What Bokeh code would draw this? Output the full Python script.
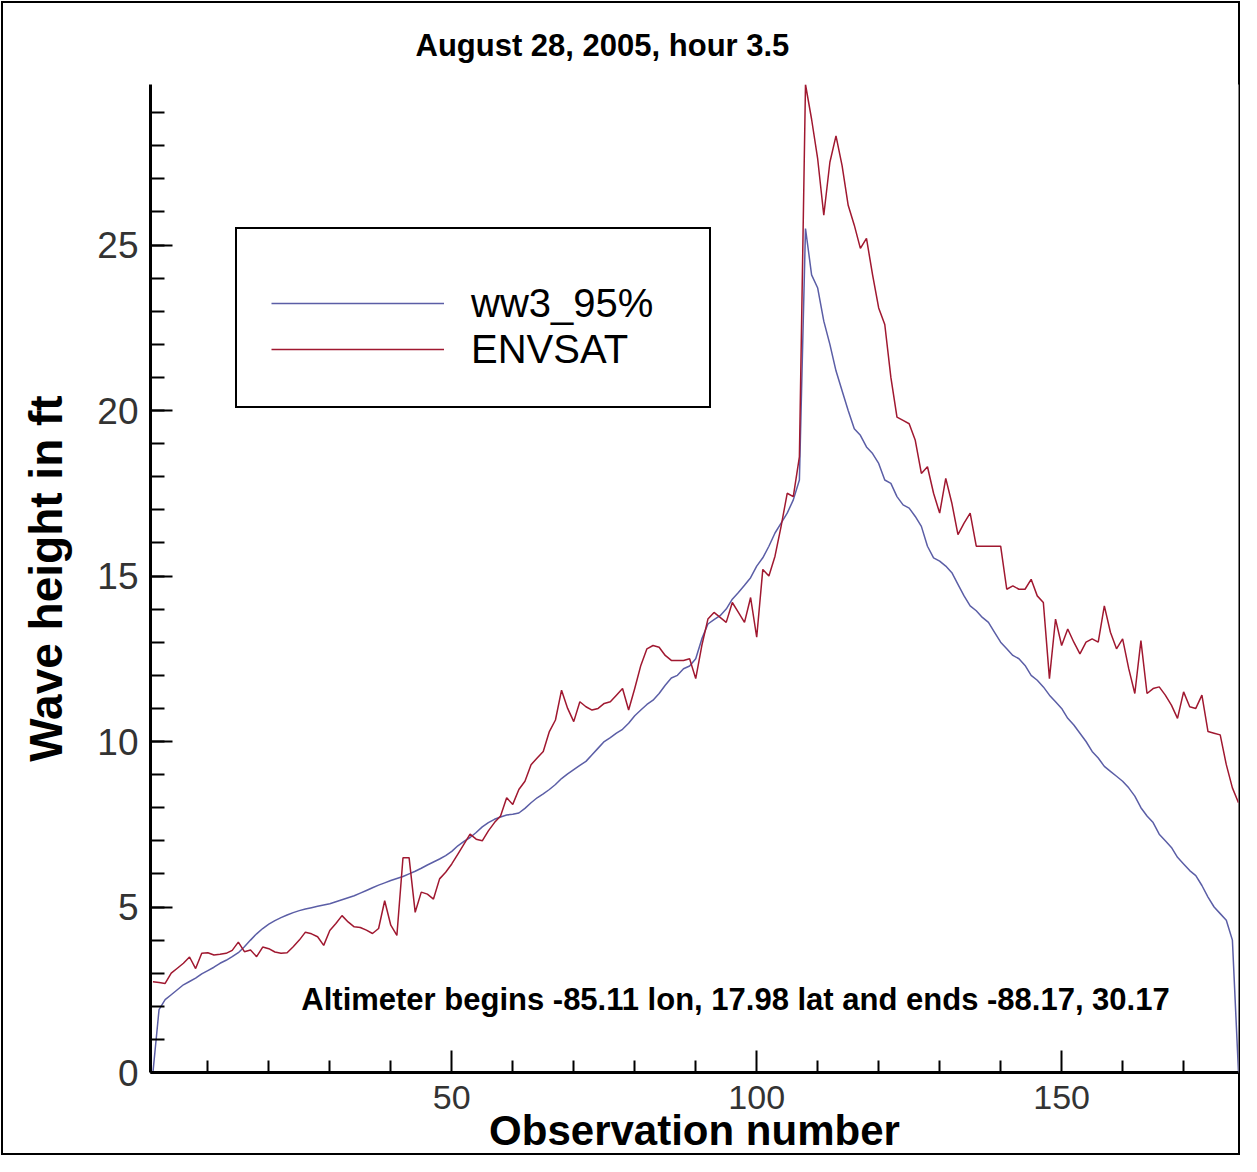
from bokeh.plotting import figure
from bokeh.models import Range1d, Legend, LegendItem, Label, FixedTicker
from bokeh.embed import file_html
from bokeh.resources import INLINE

title_text = "August 28, 2005, hour 3.5"
x_label = "Observation number"
y_label = "Wave height in ft"
note_text = "Altimeter begins -85.11 lon, 17.98 lat and ends -88.17, 30.17"
series_names = ["ww3_95%", "ENVSAT"]

x_major_ticks = [50, 100, 150]
x_minor_ticks = [10, 20, 30, 40, 60, 70, 80, 90, 110, 120, 130, 140, 160, 170]
y_major_ticks = [0, 5, 10, 15, 20, 25]
y_minor_ticks = list(range(0, 30))

observation = list(range(1, 180))

ww3_95 = [
    0.0, 1.9, 2.2, 2.35, 2.5, 2.65, 2.75, 2.85, 2.98, 3.08,
    3.18, 3.3, 3.39, 3.5, 3.62, 3.8, 4.0, 4.19, 4.35, 4.48,
    4.59, 4.68, 4.76, 4.83, 4.89, 4.94, 4.98, 5.02, 5.06, 5.1,
    5.16, 5.22, 5.28, 5.34, 5.42, 5.5, 5.58, 5.66, 5.73, 5.8,
    5.86, 5.92, 6.0, 6.08, 6.17, 6.27, 6.36, 6.45, 6.55, 6.68,
    6.85, 6.98, 7.1, 7.25, 7.42, 7.55, 7.65, 7.72, 7.78, 7.8,
    7.84, 7.98, 8.15, 8.3, 8.42, 8.55, 8.7, 8.88, 9.02, 9.15,
    9.28, 9.4, 9.6, 9.8, 10.0, 10.12, 10.25, 10.37, 10.55, 10.78,
    10.95, 11.12, 11.25, 11.45, 11.7, 11.92, 12.0, 12.2, 12.28, 12.5,
    13.1, 13.55, 13.68, 13.8, 14.0, 14.3, 14.5, 14.72, 14.95, 15.3,
    15.55, 15.9, 16.3, 16.6, 16.9, 17.3, 17.9, 25.5, 24.1, 23.7,
    22.7, 22.0, 21.2, 20.6, 20.0, 19.45, 19.25, 18.9, 18.7, 18.4,
    17.9, 17.8, 17.4, 17.15, 17.05, 16.8, 16.5, 15.9, 15.55, 15.45,
    15.3, 15.1, 14.75, 14.4, 14.1, 13.95, 13.75, 13.6, 13.3, 13.0,
    12.8, 12.6, 12.5, 12.3, 12.0, 11.85, 11.65, 11.4, 11.2, 11.0,
    10.7, 10.5, 10.25, 10.0, 9.7, 9.5, 9.25, 9.1, 8.95, 8.8,
    8.6, 8.35, 8.0, 7.75, 7.55, 7.2, 7.0, 6.8, 6.5, 6.3,
    6.1, 5.95, 5.65, 5.3, 5.0, 4.8, 4.6, 4.0, 0.0,
]

envsat = [
    2.74, 2.72, 2.69, 3.0, 3.15, 3.3, 3.49, 3.14, 3.6, 3.62,
    3.55, 3.57, 3.6, 3.69, 3.94, 3.65, 3.7, 3.5, 3.79, 3.74,
    3.64, 3.6, 3.62, 3.8, 4.0, 4.24, 4.19, 4.1, 3.84, 4.29,
    4.5, 4.74, 4.55, 4.4, 4.38, 4.3, 4.2, 4.35, 5.19, 4.45,
    4.14, 6.49, 6.49, 4.84, 5.45, 5.39, 5.24, 5.85, 6.05, 6.3,
    6.6, 6.9, 7.2, 7.05, 7.0, 7.3, 7.55, 7.75, 8.3, 8.1,
    8.55, 8.8, 9.3, 9.5, 9.7, 10.3, 10.65, 11.55, 11.0, 10.6,
    11.2, 11.05, 10.95, 11.0, 11.15, 11.2, 11.4, 11.6, 10.95, 11.6,
    12.3, 12.8, 12.9, 12.85, 12.6, 12.45, 12.45, 12.45, 12.5, 11.9,
    12.9, 13.7, 13.9, 13.75, 13.6, 14.2, 13.9, 13.6, 14.35, 13.15,
    15.2, 15.0, 15.6, 16.5, 17.5, 17.4, 18.6, 29.85, 28.8, 27.6,
    25.9, 27.5, 28.3, 27.4, 26.2, 25.6, 24.9, 25.2, 24.1, 23.1,
    22.6, 21.0, 19.8, 19.7, 19.6, 19.1, 18.1, 18.3, 17.5, 16.9,
    17.95, 17.2, 16.25, 16.6, 16.9, 15.9, 15.9, 15.9, 15.9, 15.9,
    14.6, 14.7, 14.6, 14.6, 14.9, 14.4, 14.2, 11.9, 13.7, 12.9,
    13.4, 13.0, 12.65, 13.0, 13.1, 13.0, 14.1, 13.3, 12.8, 13.1,
    12.2, 11.45, 13.05, 11.45, 11.6, 11.65, 11.4, 11.1, 10.7, 11.5,
    11.05, 11.0, 11.4, 10.3, 10.25, 10.2, 9.3, 8.6, 8.15,
]

FONT = "Liberation Sans"

p = figure(
    width=1241, height=1156,
    output_backend="svg", toolbar_location=None,
    x_range=Range1d(0.6, 179), y_range=Range1d(0, 29.85),
    min_border_left=150, min_border_right=3,
    min_border_top=84, min_border_bottom=83,
    background_fill_color="white",
)
p.border_fill_alpha = 0
p.styles = {"outline": "2px solid #000000", "outline-offset": "-3px"}
p.outline_line_color = None
p.grid.visible = False

# title
p.title.text = title_text
p.title.align = "left"
p.title.offset = 265
p.title.standoff = 44
p.title.text_font = FONT
p.title.text_font_style = "bold"
p.title.text_font_size = "31px"
p.title.text_color = "black"

# axes
for ax in (p.xaxis, p.yaxis):
    ax.axis_line_width = 3
    ax.axis_line_color = "black"
    ax.major_tick_out = 0
    ax.minor_tick_out = 0
    ax.major_tick_line_width = 2
    ax.minor_tick_line_width = 2
    ax.major_tick_line_color = "black"
    ax.minor_tick_line_color = "black"
    ax.major_label_text_font = FONT
    ax.major_label_text_color = "#333333"
    ax.axis_label_text_font = FONT
    ax.axis_label_text_font_style = "bold"
    ax.axis_label_text_color = "black"

p.xaxis.ticker = FixedTicker(ticks=x_major_ticks, minor_ticks=x_minor_ticks)
p.yaxis.ticker = FixedTicker(ticks=y_major_ticks, minor_ticks=y_minor_ticks)
p.xaxis.major_tick_in = 22
p.xaxis.minor_tick_in = 12
p.yaxis.major_tick_in = 22
p.yaxis.minor_tick_in = 14
p.xaxis.major_label_text_font_size = "34px"
p.yaxis.major_label_text_font_size = "37px"
p.xaxis.major_label_standoff = 13
p.yaxis.major_label_standoff = 12

p.yaxis.axis_label = y_label
p.yaxis.axis_label_text_font_size = "46px"
p.yaxis.axis_label_standoff = 22
p.xaxis.axis_label = x_label
p.xaxis.axis_label_text_font_size = "42px"
p.xaxis.axis_label_standoff = -5

# data
r_ww3 = p.line(observation, ww3_95, line_color="#5b5ea6", line_width=1.5)
r_env = p.line(observation, envsat, line_color="#a01830", line_width=1.5)

legend = Legend(
    items=[
        LegendItem(label=series_names[0], renderers=[r_ww3]),
        LegendItem(label=series_names[1], renderers=[r_env]),
    ],
    location=(85, 664),
    orientation="vertical",
    title=" ", title_text_font_size="15px", title_standoff=0,
    padding=34, spacing=0, margin=0,
    glyph_width=173, glyph_height=20, label_standoff=27,
    label_text_font=FONT, label_text_font_size="40px",
    label_height=46, label_width=204,
    label_text_color="black",
    border_line_color="black", border_line_width=2, border_line_alpha=1,
    background_fill_color="white", background_fill_alpha=1,
)
p.add_layout(legend)

p.add_layout(Label(
    x=585, y=73, x_units="screen", y_units="screen", text=note_text,
    text_align="center", text_baseline="middle",
    text_font=FONT, text_font_style="bold", text_font_size="31px", text_color="black",
))

open("out.html", "w").write(file_html(p, INLINE))
